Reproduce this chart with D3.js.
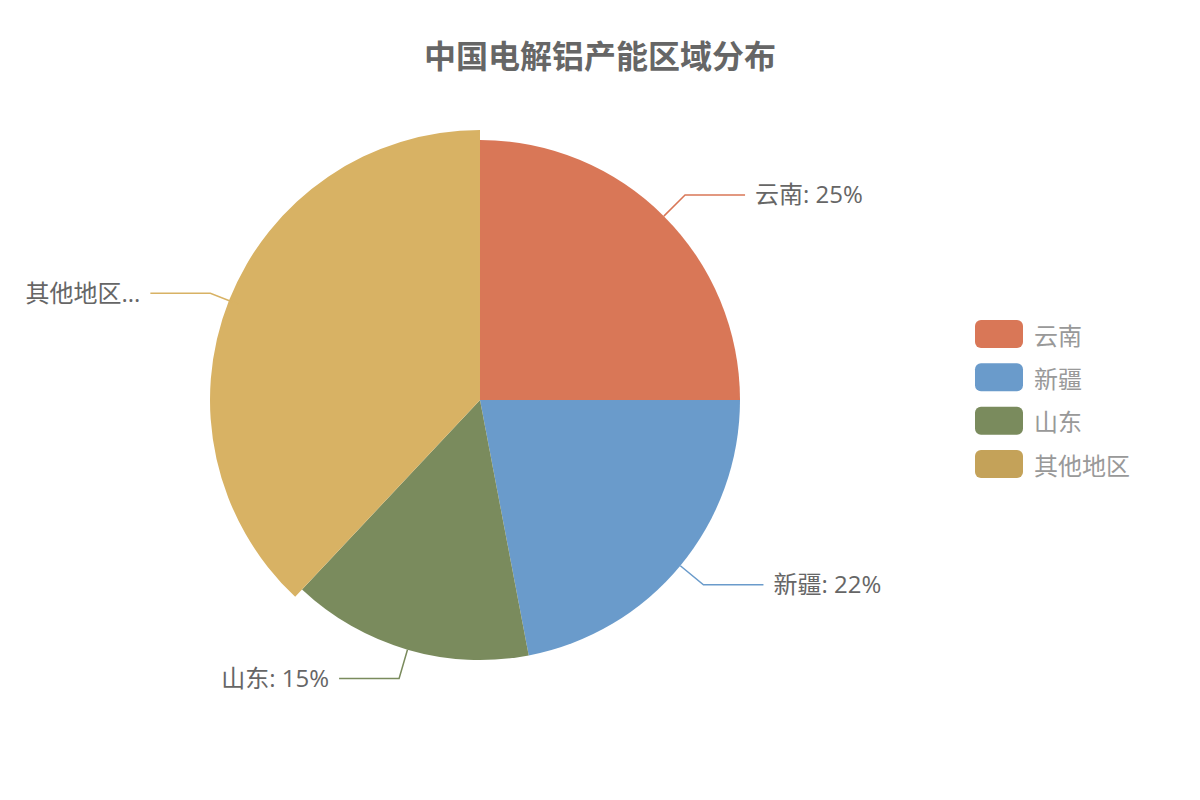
<!DOCTYPE html>
<html><head><meta charset="utf-8">
<script src="https://cdn.jsdelivr.net/npm/d3@7"></script>
<style>body{margin:0;background:#fff}svg{display:block}text{font-family:"Noto Sans CJK SC","Noto Sans",sans-serif}.lbl{font-family:"Open Sans","Noto Sans CJK SC",sans-serif}</style>
</head><body>
<svg id="c" width="1200" height="800"></svg>
<script>
const title = "中国电解铝产能区域分布";
const categories = ["云南", "新疆", "山东", "其他地区"];
const values = [25, 22, 15, 38];
const labelTexts = ["云南: 25%", "新疆: 22%", "山东: 15%", "其他地区..."];
const legendColors = ["#d97757", "#6a9bcb", "#7a8b5d", "#c4a259"];
const sliceColors = ["#d97757", "#6a9bcb", "#7a8b5d", "#d8b264"];
const emphasized = [false, false, false, true];

const svg = d3.select("#c");
const cx = 480, cy = 400, R = 260;

svg.append("text").attr("x", 600).attr("y", 54).attr("text-anchor", "middle")
  .attr("dominant-baseline", "central").attr("font-size", 32).attr("font-weight", "bold")
  .attr("fill", "#666").text(title);

const pie = d3.pie().sort(null).value(d => d)(values);
const g = svg.append("g").attr("transform", `translate(${cx},${cy})`);
g.selectAll("path").data(pie).join("path")
  .attr("d", (d, i) => d3.arc().innerRadius(0).outerRadius(emphasized[i] ? R + 10 : R)(d))
  .attr("fill", (d, i) => sliceColors[i]);

pie.forEach((d, i) => {
  const a = (d.startAngle + d.endAngle) / 2;
  const sx = Math.sin(a), sy = -Math.cos(a);
  const r0 = R, r1 = R + 30;
  const p0 = [sx * r0, sy * r0], p1 = [sx * r1, sy * r1];
  const dir = sx >= 0 ? 1 : -1;
  const p2 = [p1[0] + dir * 60, p1[1]];
  g.append("polyline").attr("points", [p0, p1, p2].map(p => p.join(",")).join(" "))
    .attr("fill", "none").attr("stroke", sliceColors[i]).attr("stroke-width", 1.5);
  g.append("text").attr("class", "lbl").attr("x", p2[0] + dir * 10).attr("y", p2[1] - 1)
    .attr("text-anchor", dir > 0 ? "start" : "end").attr("dominant-baseline", "central")
    .attr("font-size", 24).attr("fill", "#666").text(labelTexts[i]);
});

const lg = svg.append("g");
const ly = d3.scalePoint().domain(categories).range([334, 464]);
categories.forEach((c, i) => {
  lg.append("rect").attr("x", 975).attr("y", ly(c) - 14).attr("width", 48).attr("height", 28)
    .attr("rx", 6).attr("fill", legendColors[i]);
  lg.append("text").attr("x", 1034).attr("y", ly(c)).attr("dominant-baseline", "central")
    .attr("font-size", 24).attr("fill", "#999").text(c);
});
</script>
</body></html>
